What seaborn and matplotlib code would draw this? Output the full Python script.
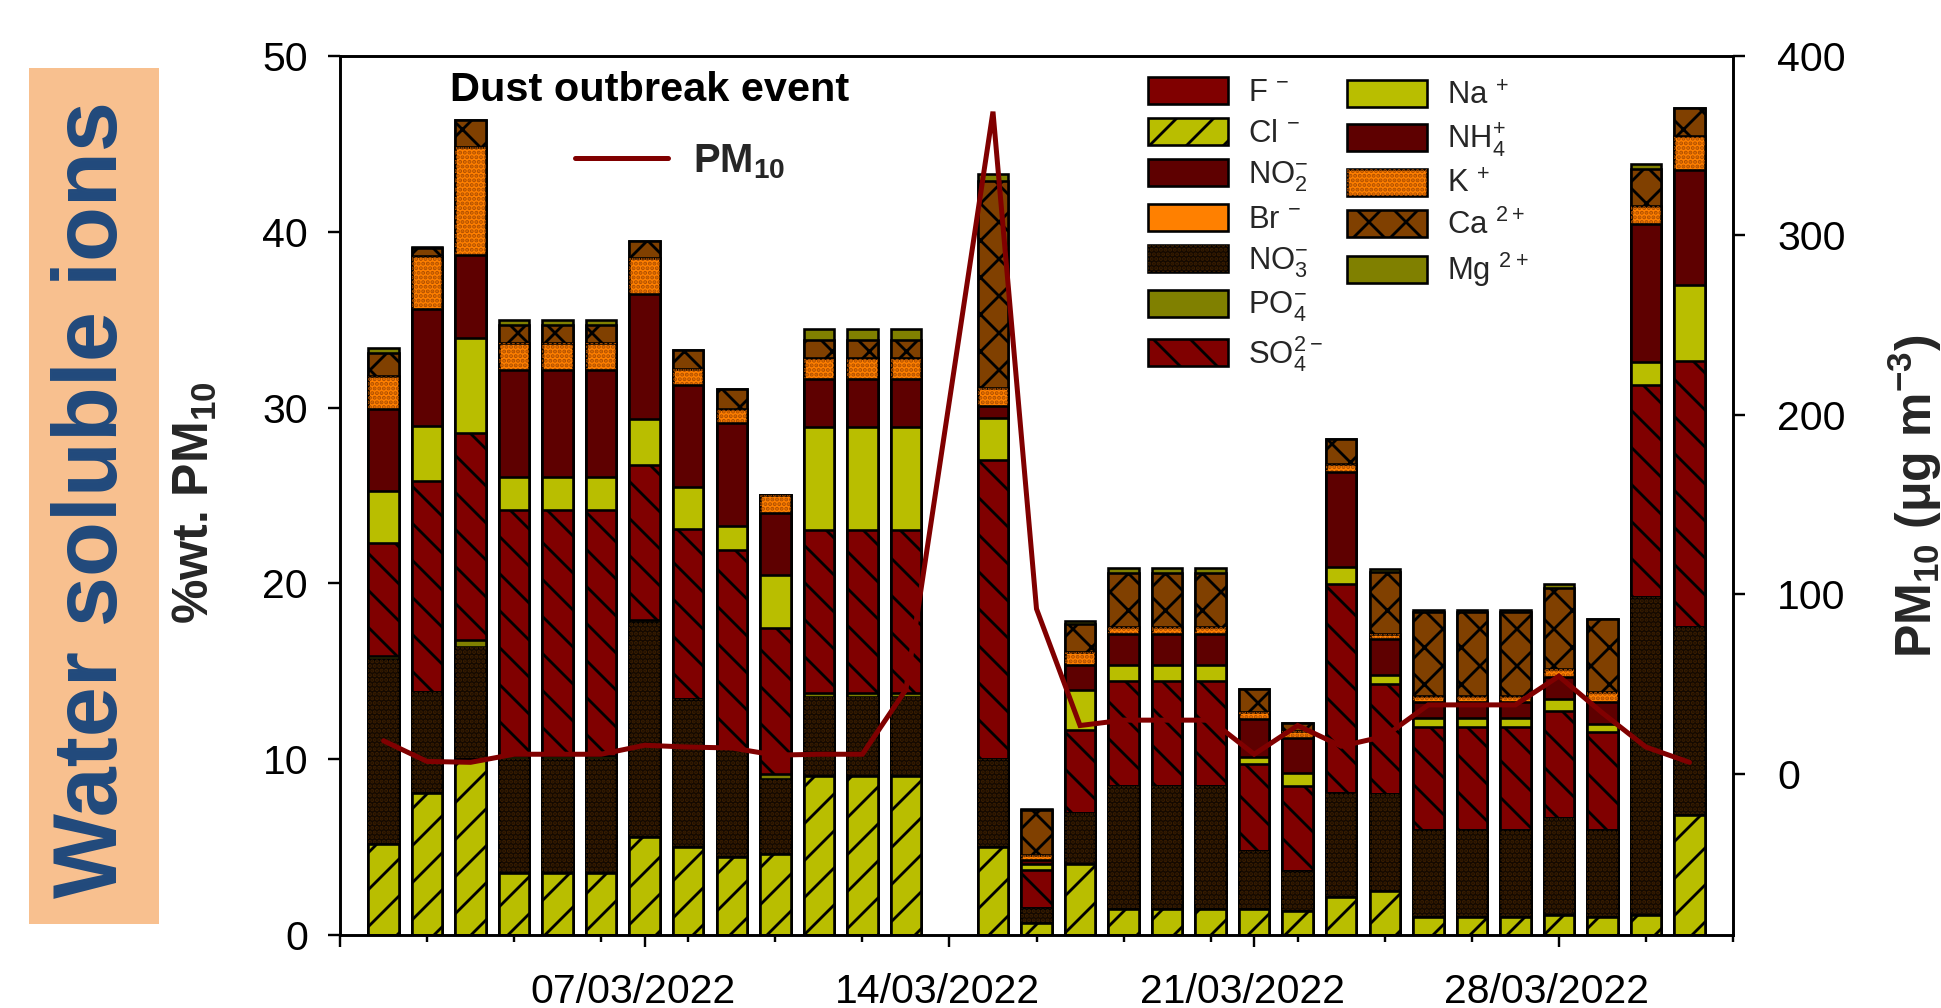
import numpy as np
import pandas as pd
import matplotlib
matplotlib.use("Agg")
import matplotlib.pyplot as plt
import matplotlib.transforms as mtransforms
import seaborn as sns
from matplotlib.patches import Patch, Rectangle
from matplotlib.lines import Line2D
from matplotlib.legend_handler import HandlerTuple
from matplotlib.ticker import FixedLocator

sns.set_theme(style="white")
plt.rcParams["font.family"] = ["Liberation Sans", "DejaVu Sans"]
plt.rcParams["mathtext.fontset"] = "custom"
plt.rcParams["mathtext.rm"] = "Liberation Sans"
plt.rcParams["mathtext.bf"] = "Liberation Sans:bold"
plt.rcParams["mathtext.default"] = "regular"

W, H, DPI = 1941, 1008, 222


def px(v):
    """pixel length -> points at the output resolution"""
    return v * 72 / DPI


plt.rcParams["hatch.linewidth"] = px(2.8)

# ---------------------------------------------------------------- data
sample_dates = [
    "2022-03-01", "2022-03-02", "2022-03-03", "2022-03-04", "2022-03-05",
    "2022-03-06", "2022-03-07", "2022-03-08", "2022-03-09", "2022-03-10",
    "2022-03-11", "2022-03-12", "2022-03-13", "2022-03-15", "2022-03-16",
    "2022-03-17", "2022-03-18", "2022-03-19", "2022-03-20", "2022-03-21",
    "2022-03-22", "2022-03-23", "2022-03-24", "2022-03-25", "2022-03-26",
    "2022-03-27", "2022-03-28", "2022-03-29", "2022-03-30", "2022-03-31",
]

# % wt. of PM10, per ion
f_ion = [0.0, 0.0, 0.0, 0.0, 0.0, 0.0, 0.0, 0.0, 0.0, 0.0,
         0.0, 0.0, 0.0, 0.0, 0.0, 0.0, 0.0, 0.0, 0.0, 0.0,
         0.0, 0.0, 0.0, 0.0, 0.0, 0.0, 0.0, 0.0, 0.0, 0.0]
cl_ion = [5.2, 8.05, 10.0, 3.5, 3.5, 3.5, 5.6, 5.0, 4.45, 4.6,
          9.05, 9.05, 9.05, 5.0, 0.66, 4.05, 1.5, 1.5, 1.5, 1.5,
          1.35, 2.15, 2.5, 1.05, 1.05, 1.05, 1.15, 1.05, 1.15, 6.8]
no2_ion = [0.0, 0.0, 0.0, 0.0, 0.0, 0.0, 0.0, 0.0, 0.0, 0.0,
           0.0, 0.0, 0.0, 0.0, 0.0, 0.0, 0.0, 0.0, 0.0, 0.0,
           0.0, 0.0, 0.0, 0.0, 0.0, 0.0, 0.0, 0.0, 0.0, 0.0]
br_ion = [0.0, 0.0, 0.0, 0.0, 0.0, 0.0, 0.0, 0.0, 0.0, 0.0,
          0.0, 0.0, 0.0, 0.0, 0.0, 0.0, 0.0, 0.0, 0.0, 0.0,
          0.0, 0.0, 0.0, 0.0, 0.0, 0.0, 0.0, 0.0, 0.0, 0.0]
no3_ion = [10.5, 5.8, 6.37, 6.5, 6.5, 6.5, 12.2, 8.4, 6.15, 4.25,
           4.5, 4.5, 4.5, 5.0, 0.86, 2.9, 6.95, 6.95, 6.95, 3.25,
           2.3, 5.9, 5.5, 4.95, 4.95, 4.95, 5.5, 4.95, 18.1, 10.7]
po4_ion = [0.15, 0.0, 0.4, 0.2, 0.2, 0.2, 0.1, 0.0, 0.0, 0.3,
           0.2, 0.2, 0.2, 0.0, 0.0, 0.0, 0.0, 0.0, 0.0, 0.0,
           0.0, 0.0, 0.0, 0.0, 0.0, 0.0, 0.0, 0.0, 0.0, 0.0]
so4_ion = [6.45, 12.0, 11.8, 14.0, 14.0, 14.0, 8.85, 9.7, 11.3, 8.3,
           9.3, 9.3, 9.3, 17.0, 2.2, 4.7, 6.0, 6.0, 6.0, 4.95,
           4.8, 11.9, 6.3, 5.85, 5.85, 5.85, 6.1, 5.55, 12.05, 15.15]
na_ion = [2.95, 3.1, 5.4, 1.85, 1.85, 1.85, 2.6, 2.4, 1.35, 3.0,
          5.85, 5.85, 5.85, 2.4, 0.3, 2.3, 0.9, 0.9, 0.9, 0.45,
          0.75, 1.0, 0.5, 0.5, 0.5, 0.5, 0.7, 0.45, 1.3, 4.3]
nh4_ion = [4.65, 6.65, 4.7, 6.1, 6.1, 6.1, 7.1, 5.8, 5.85, 3.55,
           2.75, 2.75, 2.75, 0.7, 0.26, 1.4, 1.75, 1.75, 1.75, 2.15,
           2.0, 5.4, 2.05, 0.9, 0.9, 0.9, 1.25, 1.25, 7.85, 6.55]
k_ion = [1.9, 3.05, 6.15, 1.55, 1.55, 1.55, 2.05, 0.9, 0.8, 1.0,
         1.15, 1.15, 1.15, 1.0, 0.25, 0.75, 0.4, 0.4, 0.4, 0.4,
         0.4, 0.45, 0.3, 0.35, 0.35, 0.35, 0.45, 0.55, 1.0, 1.95]
ca_ion = [1.3, 0.45, 1.55, 1.0, 1.0, 1.0, 0.95, 1.1, 1.15, 0.0,
          1.05, 1.05, 1.05, 11.8, 2.56, 1.6, 3.1, 3.1, 3.1, 1.3,
          0.45, 1.4, 3.5, 4.8, 4.8, 4.8, 4.6, 4.15, 2.15, 1.6]
mg_ion = [0.3, 0.05, 0.0, 0.3, 0.3, 0.3, 0.0, 0.0, 0.0, 0.0,
          0.6, 0.6, 0.6, 0.4, 0.05, 0.15, 0.3, 0.3, 0.3, 0.0,
          0.0, 0.0, 0.15, 0.1, 0.1, 0.1, 0.2, 0.0, 0.25, 0.0]

# PM10 mass concentration, ug m-3
pm10 = [18.5, 7.0, 6.5, 11.0, 11.0, 11.0, 16.0, 15.0, 14.5, 10.5,
        11.0, 11.0, 47.0, 369.0, 92.0, 27.0, 30.0, 30.0, 30.0, 11.0,
        27.0, 15.5, 21.0, 38.5, 38.5, 38.5, 54.5, 34.0, 15.0, 6.5]

ion_names = ["F", "Cl", "NO2", "Br", "NO3", "PO4", "SO4",
             "Na", "NH4", "K", "Ca", "Mg"]
ion_values = [f_ion, cl_ion, no2_ion, br_ion, no3_ion, po4_ion, so4_ion,
              na_ion, nh4_ion, k_ion, ca_ion, mg_ion]
ion_labels = [r"F $^{-}$", r"Cl $^{-}$", r"NO$_2^{-}$", r"Br $^{-}$",
              r"NO$_3^{-}$", r"PO$_4^{-}$", r"SO$_4^{2-}$",
              r"Na $^{+}$", r"NH$_4^{+}$", r"K $^{+}$", r"Ca $^{2+}$",
              r"Mg $^{2+}$"]

# ---------------------------------------------------------------- styles
face = {"F": "#800000", "Cl": "#B9BE00", "NO2": "#5E0000", "Br": "#FF8000",
        "NO3": "#140900", "PO4": "#808000", "SO4": "#800000", "Na": "#B9BE00",
        "NH4": "#5E0000", "K": "#FF8000", "Ca": "#804000", "Mg": "#808000"}
hatch = {"Cl": "//", "SO4": "\\\\", "Ca": "xx"}
dots = {"NO3": "#3A1E00", "K": "#B05000"}
dot_hatch = "........"
line_red = "#800000"
edge_lw = px(2.6)

origin = pd.Timestamp("2022-02-28")
dates = pd.to_datetime(pd.Series(sample_dates))
day_pos = (dates - origin).dt.days.to_numpy()

frame = pd.DataFrame(dict(zip(ion_names, ion_values)))
cum = frame.cumsum(axis=1)

# ---------------------------------------------------------------- figure
fig = plt.figure(figsize=(W / DPI, H / DPI), dpi=DPI)
ax = fig.add_axes([340 / W, 1 - 935 / H, (1733 - 340) / W, (935 - 56) / H])
ax2 = ax.twinx()

# stacked bars: draw cumulative totals from the top layer down
for name in reversed(ion_names):
    sns.barplot(x=day_pos, y=cum[name].to_numpy(), native_scale=True,
                width=0.7, color=face[name], saturation=1, errorbar=None,
                edgecolor="black", linewidth=edge_lw,
                hatch=hatch.get(name), ax=ax)
    if name in dots:
        sns.barplot(x=day_pos, y=cum[name].to_numpy(), native_scale=True,
                    width=0.7, color=dots[name], saturation=1, errorbar=None,
                    fill=False, linewidth=0, hatch=dot_hatch, ax=ax)

ax.set_xlim(0, 32)
ax.set_ylim(0, 50)
ax.set_yticks([0, 10, 20, 30, 40, 50])
major_days = [0, 7, 14, 21, 28]
minor_days = [2, 4, 6, 8, 10, 12, 16, 18, 20, 22, 24, 26, 30, 32]
ax.xaxis.set_major_locator(FixedLocator(major_days))
ax.xaxis.set_minor_locator(FixedLocator(minor_days))
ax.set_xticklabels(["" if d == 0 else
                    (origin + pd.Timedelta(days=d)).strftime("%d/%m/%Y")
                    for d in major_days])
ax.set_xlabel("")
ax.set_ylabel("")

# PM10 line on the secondary axis
sns.lineplot(x=day_pos, y=pm10, ax=ax2, color=line_red, linewidth=px(5),
             solid_joinstyle="miter", errorbar=None)
ax2.set_ylim(-89.7, 400)
ax2.set_yticks([0, 100, 200, 300, 400])
ax2.set_ylabel("")
ax2.set_xlim(0, 32)

tick_font = px(41)
ax.tick_params(axis="x", which="major", bottom=True, direction="out",
               length=px(12), width=px(2.4), color="black",
               labelsize=tick_font, pad=px(26), labelcolor="black")
ax.tick_params(axis="x", which="minor", bottom=True, direction="out",
               length=px(7), width=px(2.4), color="black")
ax.tick_params(axis="y", which="major", left=True, direction="out",
               length=px(12), width=px(2.4), color="black",
               labelsize=tick_font, pad=px(20), labelcolor="black")
ax2.tick_params(axis="y", which="major", right=True, direction="out",
                length=px(12), width=px(2.4), color="black",
                labelsize=tick_font, pad=px(32), labelcolor="black")
shift = mtransforms.ScaledTranslation(-12 / DPI, 0, fig.dpi_scale_trans)
for lab in ax.get_xticklabels():
    lab.set_transform(lab.get_transform() + shift)
for a in (ax, ax2):
    for sp in a.spines.values():
        sp.set_visible(True)
        sp.set_color("black")
        sp.set_linewidth(px(2.6))
ax.grid(False)
ax2.grid(False)

# ---------------------------------------------------------------- legends
def ion_handle(name):
    base = Patch(facecolor=face[name], edgecolor="black",
                 linewidth=edge_lw, hatch=hatch.get(name))
    if name in dots:
        return (base, Patch(facecolor="none", edgecolor=dots[name],
                            linewidth=0, hatch=dot_hatch))
    return base


leg_font = 31
leg_kw = dict(loc="upper left", frameon=False, fontsize=px(leg_font),
              handlelength=80 / leg_font, handleheight=30 / leg_font,
              handletextpad=20 / leg_font, labelspacing=0.32, borderpad=0,
              borderaxespad=0, bbox_transform=fig.transFigure,
              handler_map={tuple: HandlerTuple(ndivide=1, pad=0)})
fig.legend([ion_handle(n) for n in ion_names[:7]], ion_labels[:7],
           bbox_to_anchor=(1148 / W, 1 - 77 / H), **leg_kw)
fig.legend([ion_handle(n) for n in ion_names[7:]], ion_labels[7:],
           bbox_to_anchor=(1347 / W, 1 - 80 / H), **leg_kw)

fig.text(450 / W, 1 - 101 / H, "Dust outbreak event", fontsize=px(41.5),
         fontweight="bold", color="black", va="baseline", ha="left")
fig.legend([Line2D([], [], color=line_red, linewidth=px(5))],
           [r"PM$_{10}$"], loc="upper left", frameon=False,
           prop={"weight": "bold", "size": px(40)},
           handlelength=93 / 40, handletextpad=25 / 40, borderpad=0,
           borderaxespad=0, bbox_transform=fig.transFigure,
           bbox_to_anchor=(575 / W, 1 - 142 / H))

# ---------------------------------------------------------------- labels
fig.text(195 / W, 1 - 503 / H, r"%wt. PM$_{10}$", rotation=90,
         fontsize=px(50), fontweight="bold", ha="center", va="center")
fig.text(1915 / W, 1 - 496 / H, r"PM$_{10}$ ($\mu$g m$^{-3}$)", rotation=90,
         fontsize=px(50), fontweight="bold", ha="center", va="center")

fig.add_artist(Rectangle((29 / W, 1 - 924 / H), 130 / W, (924 - 68) / H,
                         transform=fig.transFigure, facecolor="#F8C08F",
                         edgecolor="none", zorder=0))
fig.text(94 / W, 1 - 500 / H, "Water soluble ions", rotation=90,
         fontsize=px(90), fontweight="bold", color="#214A7C",
         ha="center", va="center")

fig.savefig("out.png", dpi=DPI)
